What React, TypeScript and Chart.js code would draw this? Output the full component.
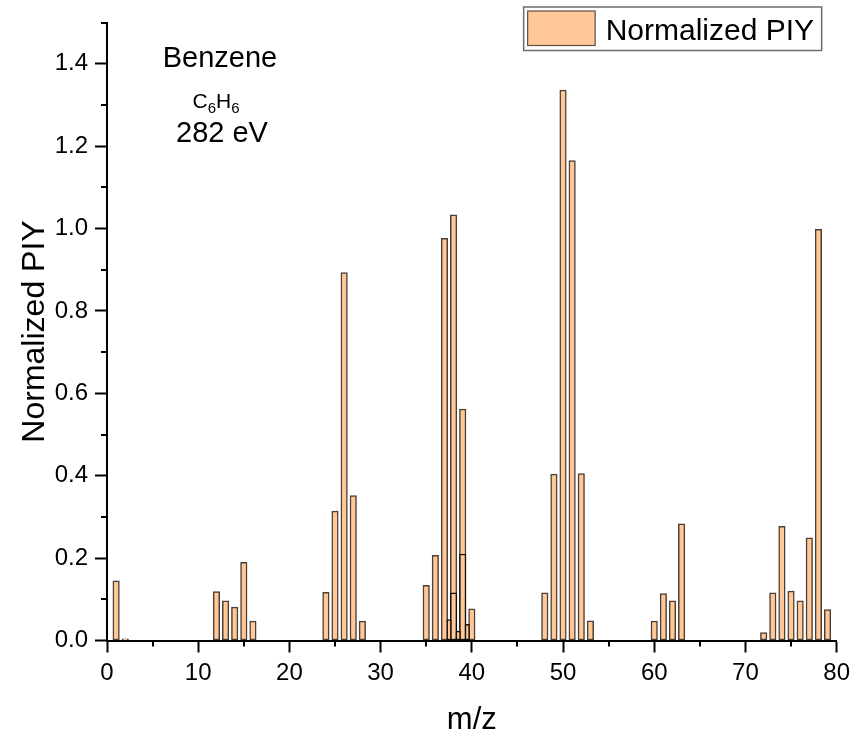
import React, { useEffect, useRef } from 'react';
import { Chart, registerables } from 'chart.js';

Chart.register(...registerables);

// m/z of the integer peaks and their normalized partial ion yield
const mz = [1, 2, 12, 13, 14, 15, 16, 24, 25, 26, 27, 28, 35, 36, 37, 38, 39, 40, 48, 49, 50, 51, 52, 53, 60, 61, 62, 63, 72, 73, 74, 75, 76, 77, 78, 79];
const piy = [0.145, 0.004, 0.119, 0.096, 0.081, 0.19, 0.047, 0.117, 0.314, 0.893, 0.352, 0.047, 0.134, 0.207, 0.976, 1.033, 0.562, 0.077, 0.116, 0.404, 1.336, 1.165, 0.405, 0.048, 0.047, 0.114, 0.096, 0.283, 0.019, 0.116, 0.277, 0.12, 0.096, 0.249, 0.998, 0.075];

// overlaid (doubly charged) contributions at integer m/z
const mzOverlay = [38, 39];
const piyOverlay = [0.116, 0.21];

// half-integer peaks
const mzHalf = [37.5, 38.5, 39.5];
const piyHalf = [0.051, 0.023, 0.039];

const xMin = 0;
const xMax = 80;
const xStep = 5;
const yMin = 0;
const yMax = 1.5;
const yStep = 0.1;

const seriesLabel = 'Normalized PIY';
const xTitle = 'm/z';
const yTitle = 'Normalized PIY';
const noteName = 'Benzene';
const noteEnergy = '282 eV';

const FILL = '#FFC896';
const FONT = '"Liberation Sans", Arial, sans-serif';

const isMajorX = (v: number) => Math.round(v) % 10 === 0;
const isMajorY = (v: number) => Math.round(v * 10) % 2 === 0;

const decorPlugin = {
  id: 'decor',
  afterDraw(chart: any) {
    const { ctx, chartArea, scales } = chart;
    const x = scales.x;
    const y = scales.y;
    ctx.save();
    // minor ticks
    ctx.strokeStyle = '#000';
    ctx.lineWidth = 2;
    ctx.beginPath();
    x.ticks.forEach((t: any) => {
      if (!isMajorX(t.value)) {
        const px = Math.round(x.getPixelForValue(t.value));
        ctx.moveTo(px, chartArea.bottom);
        ctx.lineTo(px, chartArea.bottom + 6);
      }
    });
    y.ticks.forEach((t: any) => {
      if (!isMajorY(t.value)) {
        const py = Math.round(y.getPixelForValue(t.value));
        ctx.moveTo(chartArea.left - 6, py);
        ctx.lineTo(chartArea.left, py);
      }
    });
    ctx.stroke();

    // annotation text
    const L = chartArea.left;
    const T = chartArea.top;
    ctx.fillStyle = '#000';
    ctx.textBaseline = 'alphabetic';
    ctx.textAlign = 'center';
    ctx.font = `29px ${FONT}`;
    ctx.fillText(noteName, L + 113, T + 44);
    ctx.fillText(noteEnergy, L + 115, T + 119);

    // C6H6 with subscripts
    const parts: [string, boolean][] = [['C', false], ['6', true], ['H', false], ['6', true]];
    const big = `21px ${FONT}`;
    const small = `15px ${FONT}`;
    let total = 0;
    parts.forEach(([s, sub]) => {
      ctx.font = sub ? small : big;
      total += ctx.measureText(s).width;
    });
    let cx = L + 109 - total / 2;
    ctx.textAlign = 'left';
    parts.forEach(([s, sub]) => {
      ctx.font = sub ? small : big;
      ctx.fillText(s, cx, T + (sub ? 90 : 85));
      cx += ctx.measureText(s).width;
    });

    // legend
    const bx = chartArea.right - 313;
    const by = 7;
    const bw = 298;
    const bh = 43.5;
    ctx.fillStyle = '#fff';
    ctx.fillRect(bx, by, bw, bh);
    ctx.strokeStyle = '#6e6e6e';
    ctx.lineWidth = 1.5;
    ctx.strokeRect(bx, by, bw, bh);
    ctx.fillStyle = FILL;
    ctx.fillRect(bx + 4, by + 4, 67.5, 34.5);
    ctx.strokeStyle = '#5a5048';
    ctx.lineWidth = 1.2;
    ctx.strokeRect(bx + 4, by + 4, 67.5, 34.5);
    ctx.fillStyle = '#000';
    ctx.font = `30px ${FONT}`;
    ctx.textAlign = 'left';
    ctx.fillText(chart.data.datasets[0].label, bx + 82, by + 33);
    ctx.restore();
  },
};

export default function App() {
  const ref = useRef<HTMLCanvasElement | null>(null);

  useEffect(() => {
    if (!ref.current) return;
    const chart = new Chart(ref.current, {
      type: 'bar',
      data: {
        datasets: [
          {
            label: seriesLabel,
            data: mz.map((m, i) => ({ x: m, y: piy[i] })),
            backgroundColor: FILL,
            borderColor: '#4a4038',
            borderWidth: 1.5,
            borderSkipped: false,
            barThickness: 6.5,
            grouped: false,
            order: 3,
          },
          {
            label: 'overlay',
            data: mzOverlay.map((m, i) => ({ x: m, y: piyOverlay[i] })),
            backgroundColor: FILL,
            borderColor: '#111',
            borderWidth: 1.5,
            borderSkipped: false,
            barThickness: 6.5,
            grouped: false,
            order: 2,
          },
          {
            label: 'half',
            data: mzHalf.map((m, i) => ({ x: m, y: piyHalf[i] })),
            backgroundColor: FILL,
            borderColor: '#111',
            borderWidth: 1.5,
            borderSkipped: false,
            barThickness: 4.5,
            grouped: false,
            order: 1,
          },
        ] as any,
      },
      options: {
        animation: false,
        responsive: false,
        maintainAspectRatio: false,
        layout: { padding: { top: 22.5, right: 16, left: 0, bottom: 0 } },
        plugins: { legend: { display: false }, tooltip: { enabled: false } },
        scales: {
          x: {
            type: 'linear',
            min: xMin,
            max: xMax,
            offset: false,
            afterFit: (s: any) => { s.height = 95.5; },
            grid: {
              offset: false,
              display: true,
              drawOnChartArea: false,
              drawTicks: true,
              tickLength: 12,
              tickWidth: 2,
              tickColor: (c: any) => (c.tick && isMajorX(c.tick.value) ? '#000' : 'rgba(0,0,0,0)'),
            },
            border: { display: true, color: '#000', width: 2, z: 1 } as any,
            ticks: {
              stepSize: xStep,
              autoSkip: false,
              maxRotation: 0,
              padding: 6,
              color: '#000',
              font: { family: FONT, size: 24 },
              callback: (v: any) => (isMajorX(Number(v)) ? String(Math.round(Number(v))) : ''),
            },
            title: {
              display: true,
              text: xTitle,
              color: '#000',
              font: { family: FONT, size: 31, lineHeight: 1 },
              padding: { top: 0, bottom: 0 },
            },
          },
          y: {
            type: 'linear',
            min: yMin,
            max: yMax,
            afterFit: (s: any) => { s.width = 107; },
            grid: {
              display: true,
              drawOnChartArea: false,
              drawTicks: true,
              tickLength: 12,
              tickWidth: 2,
              tickColor: (c: any) => (c.tick && isMajorY(c.tick.value) ? '#000' : 'rgba(0,0,0,0)'),
            },
            border: { display: true, color: '#000', width: 2, z: 1 } as any,
            ticks: {
              stepSize: yStep,
              autoSkip: false,
              padding: 7,
              color: '#000',
              font: { family: FONT, size: 24 },
              callback: (v: any) => {
                const n = Number(v);
                return isMajorY(n) && n < 1.45 ? n.toFixed(1) : '';
              },
            },
            title: {
              display: true,
              text: yTitle,
              color: '#000',
              font: { family: FONT, size: 32, lineHeight: 1 },
              padding: { top: 19, bottom: 0 },
            },
          },
        },
      } as any,
      plugins: [decorPlugin],
    });
    return () => chart.destroy();
  }, []);

  return (
    <div style={{ position: 'absolute', left: 0, top: 0, width: 856, height: 736, background: '#fff' }}>
      <canvas ref={ref} width={856} height={736} />
    </div>
  );
}
